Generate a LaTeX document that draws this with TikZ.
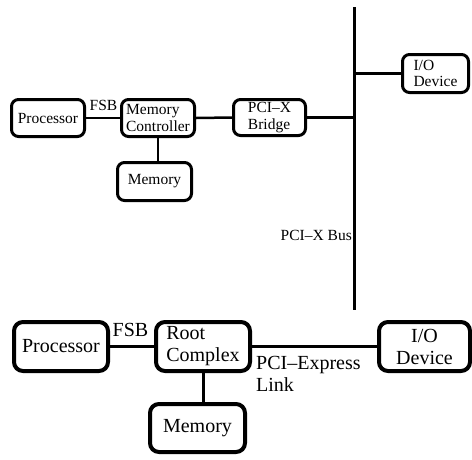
\documentclass[tikz,border=0pt]{standalone}
\usepackage{fontspec}
\setmainfont{Liberation Serif}
\newfontfamily\diagserif{Liberation Serif}
\begin{document}
\begin{tikzpicture}[x=1pt,y=-1pt,
  boxA/.style={draw, line width=3pt, rounded corners=7pt, align=center, inner sep=0pt,
    font=\diagserif\fontsize{15.5}{16.5}\selectfont},
  boxB/.style={draw, line width=4pt, rounded corners=9pt, align=center, inner sep=0pt,
    font=\diagserif\fontsize{20}{22}\selectfont},
  linkA/.style={line width=2.5pt},
  linkB/.style={line width=3pt},
  lblA/.style={inner sep=0pt, font=\diagserif\fontsize{15.5}{16.5}\selectfont},
  lblB/.style={inner sep=0pt, font=\diagserif\fontsize{20}{22}\selectfont, align=left}]
\useasboundingbox (0,0) rectangle (472,459);

% ---- top: PCI-X ----
\node[boxA, minimum width=73pt, minimum height=37pt] (p1) at (48,118) {Processor};
\node[boxA, minimum width=73pt, minimum height=37pt, align=left] (mc) at (158,118) {Memory\\Controller};
\node[boxA, minimum width=74pt, minimum height=38pt] (mem1) at (154.5,181.5) {Memory};
\node[boxA, minimum width=72pt, minimum height=36pt, align=left] (br) at (269.5,117.5) {PCI–X\\Bridge};
\node[boxA, minimum width=66pt, minimum height=38pt, align=left] (io1) at (435.5,73.5) {I/O\\Device};
\coordinate (busT) at (354,7);
\coordinate (busB) at (354,310);
\draw[line width=3pt] (busT) -- (busB);
\draw[linkA] (p1.east) -- (mc.west);
\draw[linkA] (mc.south) -- (mc.south |- mem1.north);
\draw[linkA] (mc.east) -- (br.west);
\draw[linkA] (br.east) -- (br.east -| busT);
\draw[linkA] (io1.west -| busT) -- (io1.west);
\node[lblA] (fsb1) at (103.5,105) {FSB};
\node[lblA, anchor=east] (busl) at (352,235) {PCI–X Bus};

% ---- bottom: PCI-Express ----
\node[boxB, minimum width=94pt, minimum height=49pt] (p2) at (61,346.5) {Processor};
\node[boxB, minimum width=94pt, minimum height=49pt, align=left] (rc) at (203,346.5) {Root\\Complex};
\node[boxB, minimum width=95pt, minimum height=48pt] (mem2) at (197.5,428) {Memory};
\node[boxB, minimum width=91pt, minimum height=49pt] (io2) at (424.5,346.5) {I/O\\Device};
\draw[linkB] (p2.east) -- (rc.west);
\draw[linkB] (rc.south) -- (rc.south |- mem2.north);
\draw[linkB] (rc.east) -- (io2.west);
\node[lblB] (fsb2) at (130.5,330) {FSB};
\node[lblB, anchor=west] (pcie) at (256,373.5) {PCI–Express\\Link};
\end{tikzpicture}
\end{document}
